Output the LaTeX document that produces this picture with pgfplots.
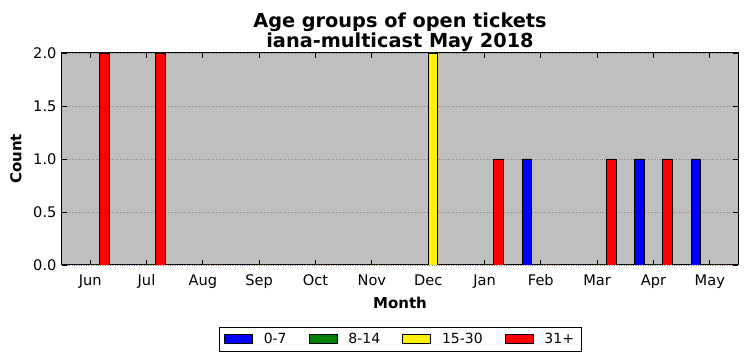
\documentclass[border=0pt]{standalone}
\usepackage{fontspec}
\setmainfont{DejaVu Sans}
\usepackage{pgfplots}
\pgfplotsset{compat=1.18}
\definecolor{bgc}{HTML}{BFBFBF}
\definecolor{mgreen}{HTML}{008000}
\definecolor{gridc}{HTML}{8A8A8A}
\pgfplotsset{
  barstyle/.style={ybar, bar width=0.1667, bar shift=#1, draw=black, line width=0.8pt},
  legpatch/.style={legend image code/.code={\draw[fill=#1,draw=black,line width=0.8pt] (0pt,-4.7pt) rectangle (28pt,4.7pt);}},
}
\begin{document}
\begin{tikzpicture}
\useasboundingbox (-62pt,-96pt) rectangle (685pt,265pt);
\begin{axis}[
  at={(0pt,0pt)}, anchor=south west,
  scale only axis, width=676pt, height=212pt,
  xmin=-0.5, xmax=11.5, ymin=0, ymax=2,
  axis background/.style={fill=bgc},
  xtick={0,1,2,3,4,5,6,7,8,9,10,11},
  xticklabels={Jun,Jul,Aug,Sep,Oct,Nov,Dec,Jan,Feb,Mar,Apr,May},
  ytick={0,0.5,1,1.5,2},
  yticklabel style={anchor=east, xshift=-2pt, /pgf/number format/.cd, fixed, fixed zerofill, precision=1},
  /pgf/number format/assume math mode=true,
  tick align=inside, tick pos=both,
  major tick length=5pt,
  every tick/.style={black, line width=0.8pt},
  ymajorgrids, grid style={dotted, gridc, line width=0.8pt},
  axis line style={line width=1pt},
  tick label style={font=\fontsize{14.6}{17}\selectfont},
  xticklabel style={anchor=base, yshift=-20.5pt},
  title={Age groups of open tickets\\iana-multicast May 2018},
  title style={font=\bfseries\fontsize{19.3}{20}\selectfont, align=center, at={(axis description cs:0.5,1)}, anchor=south, inner sep=0pt, yshift=-4.8pt},
  xlabel={Month}, ylabel={Count},
  label style={font=\bfseries\fontsize{15}{17}\selectfont},
  xlabel style={at={(axis description cs:0.5,-0.2042)}, anchor=base},
  ylabel style={at={(axis description cs:-0.0602,0.5)}, anchor=base, rotate=0},
  legend style={at={(axis description cs:0.5,-0.291)}, anchor=north, legend columns=4,
    draw=black, line width=0.8pt, font=\fontsize{14}{16}\selectfont,
    inner xsep=5pt, inner ysep=4pt,
    /tikz/every odd column/.append style={column sep=9pt},
    /tikz/every even column/.append style={column sep=20pt}},
]
\addplot[barstyle=-0.25, fill=blue, legpatch=blue] coordinates {
(0,0) (1,0) (2,0) (3,0) (4,0) (5,0) (6,0) (7,0) (8,1) (9,0) (10,1) (11,1)};
\addlegendentry{0-7}
\addplot[barstyle=-0.0833, fill=mgreen, legpatch=mgreen] coordinates {
(0,0) (1,0) (2,0) (3,0) (4,0) (5,0) (6,0) (7,0) (8,0) (9,0) (10,0) (11,0)};
\addlegendentry{8-14}
\addplot[barstyle=0.0833, fill=yellow, legpatch=yellow] coordinates {
(0,0) (1,0) (2,0) (3,0) (4,0) (5,0) (6,2) (7,0) (8,0) (9,0) (10,0) (11,0)};
\addlegendentry{15-30}
\addplot[barstyle=0.25, fill=red, legpatch=red] coordinates {
(0,2) (1,2) (2,0) (3,0) (4,0) (5,0) (6,0) (7,1) (8,0) (9,1) (10,1) (11,0)};
\addlegendentry{31+}
\end{axis}
\end{tikzpicture}
\end{document}
